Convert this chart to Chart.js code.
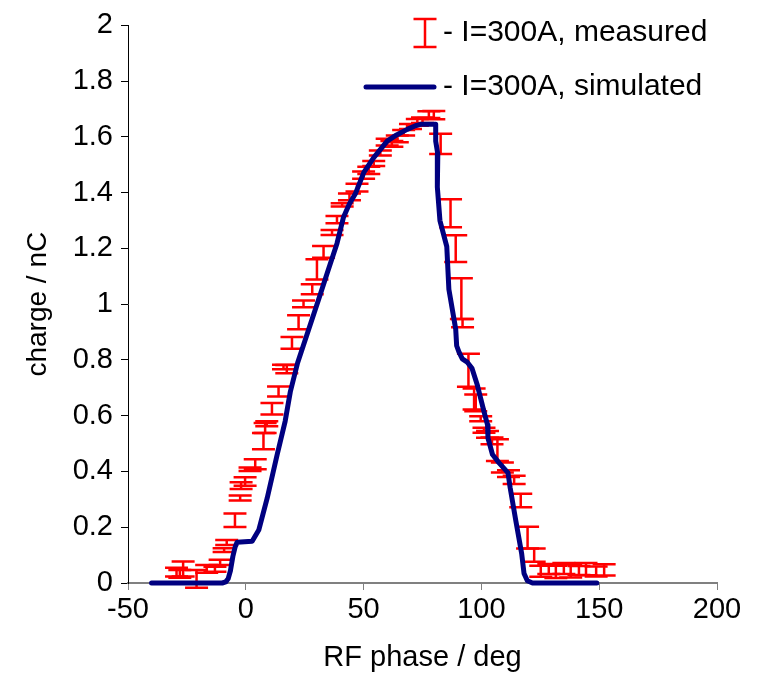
<!DOCTYPE html>
<html>
<head>
<meta charset="utf-8">
<script src="https://cdn.jsdelivr.net/npm/chart.js@4.4.1/dist/chart.umd.min.js"></script>
<style>
  html, body { margin: 0; padding: 0; background: #fff; }
  #wrap { width: 759px; height: 675px; }
</style>
</head>
<body>
<div id="wrap"><canvas id="chart" width="759" height="675"></canvas></div>
<script>
// measured charge: RF phase (deg), centre value (nC), half error (nC)
const measX = [-29.4, -28.0, -26.6, -20.9, -16.6, -13.1, -10.9, -9.2, -8.1, -4.6, -2.4, -2.0, -0.3, 1.8, 4.0,
  7.5, 8.2, 8.9, 11.1, 13.9, 16.0, 17.4, 19.6, 22.4, 24.5, 28.2, 30.2, 33.0, 36.6, 38.7, 40.9, 44.0,
  47.2, 50.0, 52.2, 54.3, 57.1, 60.0, 62.0, 64.3, 67.0, 69.9, 72.8, 75.0, 77.7, 79.8, 82.7,
  86.9, 89.1, 91.5, 92.0, 94.5, 96.9, 97.6, 99.7, 101.1, 102.6, 104.5, 106.8, 108.9, 111.5, 113.9, 116.7,
  119.6, 122.4, 125.2, 128.6, 131.6, 135.0, 137.9, 141.4, 144.4, 148.7, 152.1];
const measY = [0.039, 0.033, 0.050, 0.015, 0.051, 0.049, 0.074, 0.118, 0.145, 0.225, 0.305, 0.349, 0.364, 0.408, 0.426,
  0.509, 0.556, 0.571, 0.625, 0.687, 0.775, 0.767, 0.861, 0.935, 1.001, 1.054, 1.125, 1.188, 1.257, 1.303, 1.356, 1.385,
  1.418, 1.463, 1.480, 1.505, 1.542, 1.581, 1.575, 1.593, 1.615, 1.637, 1.652, 1.660, 1.680, 1.678, 1.575,
  1.326, 1.199, 1.020, 0.932, 0.763, 0.660, 0.646, 0.589, 0.548, 0.533, 0.510, 0.477, 0.414, 0.392, 0.370, 0.296,
  0.163, 0.100, 0.042, 0.050, 0.040, 0.052, 0.043, 0.045, 0.050, 0.041, 0.047];
const measErr = [0.016, 0.014, 0.027, 0.032, 0.014, 0.009, 0.009, 0.007, 0.009, 0.024, 0.009, 0.012, 0.015, 0.006, 0.018,
  0.029, 0.018, 0.009, 0.021, 0.018, 0.008, 0.015, 0.021, 0.025, 0.012, 0.018, 0.036, 0.021, 0.009, 0.013, 0.006, 0.012,
  0.014, 0.013, 0.013, 0.009, 0.009, 0.012, 0.010, 0.012, 0.010, 0.009, 0.012, 0.010, 0.012, 0.015, 0.036,
  0.050, 0.048, 0.073, 0.015, 0.059, 0.038, 0.030, 0.009, 0.009, 0.012, 0.012, 0.039, 0.018, 0.012, 0.015, 0.024,
  0.039, 0.024, 0.020, 0.018, 0.022, 0.020, 0.023, 0.016, 0.022, 0.018, 0.020];

// simulated charge curve
const simX = [-40, -10, -8.5, -7.5, -6.5, -5.5, -4.5, -3.7, 2.7, 5.5, 9.1, 13.3, 16.7, 18.9, 22.0, 25.8, 30.9, 34.5,
  38.7, 41.5, 44.0, 46.5, 50.1, 54.3, 60.0, 64.0, 68.5, 72.0, 74.2, 80.6, 80.6, 81.5, 81.3, 82.4, 85.3, 86.2,
  89.1, 89.5, 90.5, 91.9, 94.0, 96.0, 98.3, 101.1, 102.6, 102.8, 104.7, 107.5, 111.3, 112.2, 114.6, 117.1,
  118.1, 119.5, 121.7, 149];
const simY = [0, 0, 0.004, 0.015, 0.045, 0.095, 0.130, 0.146, 0.150, 0.190, 0.305, 0.460, 0.580, 0.686, 0.790, 0.887, 1.017, 1.110,
  1.218, 1.313, 1.360, 1.396, 1.473, 1.526, 1.585, 1.607, 1.627, 1.640, 1.645, 1.645, 1.585, 1.538, 1.420, 1.300, 1.207, 1.053,
  0.910, 0.851, 0.828, 0.804, 0.792, 0.770, 0.709, 0.615, 0.567, 0.520, 0.461, 0.431, 0.395, 0.342, 0.224, 0.105,
  0.034, 0.008, 0, 0];

const xTickValues = [-50, 0, 50, 100, 150, 200];
const yTickValues = [0, 0.2, 0.4, 0.6, 0.8, 1, 1.2, 1.4, 1.6, 1.8, 2];
const seriesLabels = ['- I=300A, measured', '- I=300A, simulated'];
const xTitle = 'RF phase / deg';
const yTitle = 'charge / nC';

const RED = '#ff0000';
const NAVY = '#000080';
const FONT = '"Liberation Sans", Arial, sans-serif';

Chart.defaults.font.family = FONT;
Chart.defaults.color = '#000';

const errorBars = {
  id: 'errorBars',
  beforeDatasetsDraw(chart) {
    const ctx = chart.ctx, xs = chart.scales.x, ys = chart.scales.y;
    const half = 11.5;
    ctx.save();
    ctx.strokeStyle = RED;
    ctx.lineWidth = 2.5;
    for (let i = 0; i < measX.length; i++) {
      const px = xs.getPixelForValue(measX[i]);
      const top = ys.getPixelForValue(measY[i] + measErr[i]);
      const bot = ys.getPixelForValue(measY[i] - measErr[i]);
      ctx.beginPath();
      ctx.moveTo(px, top); ctx.lineTo(px, bot);
      ctx.moveTo(px - half, top); ctx.lineTo(px + half, top);
      ctx.moveTo(px - half, bot); ctx.lineTo(px + half, bot);
      ctx.stroke();
    }
    ctx.restore();
  }
};

const legendBox = {
  id: 'legendBox',
  afterDraw(chart) {
    const ctx = chart.ctx;
    ctx.save();
    // measured: error bar symbol
    ctx.strokeStyle = RED;
    ctx.lineWidth = 2.5;
    ctx.beginPath();
    ctx.moveTo(425, 19); ctx.lineTo(425, 47);
    ctx.moveTo(413.5, 19); ctx.lineTo(436.5, 19);
    ctx.moveTo(413.5, 47); ctx.lineTo(436.5, 47);
    ctx.stroke();
    // simulated: line symbol
    ctx.strokeStyle = NAVY;
    ctx.lineWidth = 5;
    ctx.lineCap = 'round';
    ctx.beginPath();
    ctx.moveTo(366, 87); ctx.lineTo(434, 87);
    ctx.stroke();
    ctx.fillStyle = '#000';
    ctx.font = '30px ' + FONT;
    ctx.textBaseline = 'middle';
    ctx.textAlign = 'left';
    ctx.fillText(seriesLabels[0], 443, 33);
    ctx.fillText(seriesLabels[1], 443, 87);
    ctx.restore();
  }
};

new Chart(document.getElementById('chart'), {
  type: 'scatter',
  data: {
    datasets: [
      {
        label: seriesLabels[0],
        data: measX.map((x, i) => ({ x: x, y: measY[i] })),
        pointRadius: 0,
        showLine: false
      },
      {
        label: seriesLabels[1],
        data: simX.map((x, i) => ({ x: x, y: simY[i] })),
        showLine: true,
        borderColor: NAVY,
        borderWidth: 5,
        borderCapStyle: 'round',
        borderJoinStyle: 'round',
        pointRadius: 0,
        tension: 0,
        clip: false
      }
    ]
  },
  options: {
    responsive: false,
    animation: false,
    layout: { padding: { left: 0, right: 42, top: 20, bottom: 0 } },
    plugins: { legend: { display: false }, tooltip: { enabled: false } },
    scales: {
      x: {
        type: 'linear',
        min: -50, max: 200,
        afterBuildTicks: s => { s.ticks = xTickValues.map(v => ({ value: v })); },
        afterFit: s => { s.height = 92; },
        ticks: { font: { size: 29 }, padding: 3, maxRotation: 0, callback: v => String(v) },
        grid: { drawOnChartArea: false, drawTicks: true, tickLength: 7, color: '#808080' },
        border: { color: '#808080', width: 2 },
        title: { display: true, text: xTitle, font: { size: 29 }, padding: { top: 0, bottom: 0 } }
      },
      y: {
        type: 'linear',
        min: 0, max: 2,
        afterBuildTicks: s => { s.ticks = yTickValues.map(v => ({ value: v })); },
        afterFit: s => { s.width = 128; },
        ticks: { font: { size: 29 }, padding: 8, callback: v => String(Number(v.toFixed(1))) },
        grid: { drawOnChartArea: false, drawTicks: true, tickLength: 7, color: '#000' },
        border: { color: '#000', width: 1 },
        title: { display: true, text: yTitle, font: { size: 28 }, padding: { top: 21, bottom: 0 } }
      }
    }
  },
  plugins: [errorBars, legendBox]
});
</script>
</body>
</html>
